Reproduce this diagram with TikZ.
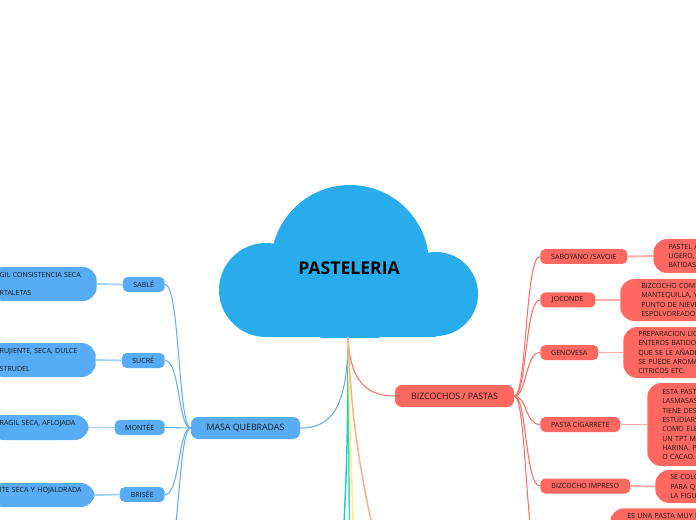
\documentclass[tikz,border=0pt]{standalone}
\usepackage{fontspec}
\setmainfont{Open Sans}
\newdimen\pxu \pxu=0.75pt
\definecolor{cloudc}{RGB}{41,172,235}
\definecolor{bluen}{RGB}{88,172,245}
\definecolor{bluel}{RGB}{165,210,250}
\definecolor{bluet}{RGB}{100,175,240}
\definecolor{redn}{RGB}{255,104,96}
\definecolor{redl}{RGB}{255,172,166}
\definecolor{redt}{RGB}{255,110,100}
\definecolor{cyanl}{RGB}{30,200,212}
\definecolor{greenl}{RGB}{80,215,170}
\definecolor{yellowl}{RGB}{255,240,130}
\definecolor{orangel}{RGB}{255,172,130}
\definecolor{txt}{RGB}{25,25,25}
\tikzset{
  smallfont/.style={font=\fontsize{5.3pt}{7pt}\selectfont},
  subb/.style={smallfont, fill=bluen, rounded corners=5\pxu, minimum height=15\pxu, inner sep=0pt, text=txt},
  subr/.style={subb, fill=redn},
  mainb/.style={fill=bluen, rounded corners=7\pxu, minimum height=22\pxu, inner sep=0pt, text=txt, font=\fontsize{6.6pt}{8pt}\selectfont},
  mainr/.style={mainb, fill=redn},
  leafb/.style={smallfont, fill=bluen, rounded corners=14\pxu, align=left, inner ysep=0pt, inner xsep=10\pxu, text=txt, anchor=east},
  leafr/.style={smallfont, fill=redn, rounded corners=14\pxu, align=left, inner ysep=0pt, inner xsep=15\pxu, text width=100\pxu, text=txt, anchor=west},
  trunkb/.style={draw=bluet, line width=0.8pt},
  trunkr/.style={draw=redt, line width=0.8pt},
  linkb/.style={draw=bluel, line width=1.4pt},
  linkr/.style={draw=redl, line width=1.4pt},
  branch/.style={line width=1.1pt}
}
\begin{document}
\begin{tikzpicture}[x=0.75pt,y=-0.75pt]
\path[use as bounding box] (0,0) rectangle (696,520);
\clip (0,0) rectangle (696,520);

% cloud
\begin{scope}
  \clip (200,150) rectangle (500,337);
  \fill[cloudc] (266,290) circle[radius=47\pxu];
  \fill[cloudc] (350,264) circle[radius=79\pxu];
  \fill[cloudc] (436,294) circle[radius=42\pxu];
  \fill[cloudc] (266,270) rectangle (436,337);
\end{scope}
\node[font=\fontsize{13.2pt}{15pt}\selectfont\bfseries, text=black] (root) at (349,268) {PASTELERIA};
\coordinate (rootb) at (348,337);

% main branches
\node[mainb, minimum width=109\pxu] (mq) at (245.5,428) {MASA QUEBRADAS};
\node[mainr, minimum width=119\pxu] (bz) at (454.5,396) {BIZCOCHOS / PASTAS};

% left sub nodes
\node[subb, minimum width=42\pxu, anchor=east] (sable) at (165,284.5) {SABLÉ};
\node[subb, minimum width=43\pxu, anchor=east] (sucre) at (165,360.5) {SUCRÉ};
\node[subb, minimum width=50\pxu, anchor=east] (montee) at (165,427.5) {MONTÉE};
\node[subb, minimum width=45\pxu, anchor=east] (brisee) at (165,494.5) {BRISÉE};
\coordinate (mqx) at (165,560);

% left leaves
\node[leafb, text width=87\pxu, minimum height=34\pxu] (sablel) at (97,284) {GIL CONSISTENCIA SECA\\ \mbox{}\\ RTALETAS};
\node[leafb, text width=86\pxu, minimum height=34\pxu] (sucrel) at (96,360) {RUJIENTE, SECA, DULCE\\ \mbox{}\\ STRUDEL};
\node[leafb, text width=79\pxu, minimum height=25\pxu] (monteel) at (89,427.5) {RAGIL SECA, AFLOJADA\\ \mbox{}};
\node[leafb, text width=85\pxu, minimum height=24\pxu] (briseel) at (95,495) {ITE SECA Y HOJALDRADA\\ \mbox{}};

% right sub nodes
\node[subr, minimum width=87\pxu, anchor=west] (sab) at (540,256.5) {SABOYANO /SAVOIE};
\node[subr, minimum width=55\pxu, anchor=west] (joc) at (540,300) {JOCONDE};
\node[subr, minimum width=58\pxu, anchor=west] (gen) at (540,352.5) {GENOVESA};
\node[subr, minimum width=80\pxu, anchor=west] (cig) at (540,424.5) {PASTA CIGARRETE};
\node[subr, minimum width=90\pxu, anchor=west] (imp) at (540,486) {BIZCOCHO IMPRESO};
\coordinate (bzx) at (540,560);

% right leaves
\node[leafr, minimum height=34\pxu] (sabl) at (653,256) {PASTEL A\\ LIGERO,\\ BATIDAS};
\node[leafr, minimum height=42\pxu, inner xsep=21\pxu] (jocl) at (620,300) {BIZCOCHO COMI\\ MANTEQUILLA, Y\\ PUNTO DE NIEVE\\ ESPOLVOREADO};
\node[leafr, minimum height=51\pxu] (genl) at (623,352.5) {PREPARACION LIC\\ ENTEROS BATIDO\\ QUE SE LE AÑADE\\ SE PUEDE AROMA\\ CITRICOS ETC.};
\node[leafr, minimum height=83\pxu] (cigl) at (647,424.5) {ESTA PASTA\\ LASMASAS\\ TIENE DES\\ ESTUDIARS\\ COMO ELE\\ UN TPT MA\\ HARINA. P\\ O CACAO.};
\node[leafr, minimum height=33\pxu] (impl) at (655,486.5) {SE COLO\\ PARA Q\\ LA FIGU};
\node[leafr, anchor=north west, inner ysep=5\pxu, inner xsep=17\pxu] (unal) at (610,508) {ES UNA PASTA MUY P\\ \mbox{}\\ \mbox{}};

% root connectors
\draw[trunkb] (rootb) .. controls (348,410) and (330,428) .. (mq.east);
\draw[trunkr] (rootb) .. controls (350,385) and (370,396) .. (bz.west);
\coordinate (d1) at (343,545);
\coordinate (d2) at (349.5,545);
\coordinate (d3) at (354,545);
\coordinate (d4) at (377,545);
\draw[branch, draw=cyanl] (rootb) .. controls (348,450) and (346,480) .. (d1);
\draw[branch, draw=greenl] (rootb) -- (d2);
\draw[branch, draw=yellowl] (rootb) .. controls (350,430) .. (d3);
\draw[branch, draw=orangel] (rootb) .. controls (350,400) and (358,470) .. (d4);

% left trunk
\draw[trunkb] (mq.west) .. controls (178,428) and (180,284.5) .. (sable.east);
\draw[trunkb] (mq.west) .. controls (178,428) and (180,360.5) .. (sucre.east);
\draw[trunkb] (mq.west) -- (montee.east);
\draw[trunkb] (mq.west) .. controls (178,428) and (180,494.5) .. (brisee.east);
\draw[trunkb] (mq.west) .. controls (178,428) and (180,560) .. (mqx);

% right trunk
\draw[trunkr] (bz.east) .. controls (527,396) and (525,256.5) .. (sab.west);
\draw[trunkr] (bz.east) .. controls (527,396) and (525,300) .. (joc.west);
\draw[trunkr] (bz.east) .. controls (527,396) and (525,352.5) .. (gen.west);
\draw[trunkr] (bz.east) .. controls (527,396) and (525,424.5) .. (cig.west);
\draw[trunkr] (bz.east) .. controls (527,396) and (525,486) .. (imp.west);
\draw[trunkr] (bz.east) .. controls (527,396) and (525,560) .. (bzx);

% sub-leaf links
\draw[linkb] (sable.west) -- (sablel.east);
\draw[linkb] (sucre.west) -- (sucrel.east);
\draw[linkb] (montee.west) -- (monteel.east);
\draw[linkb] (brisee.west) -- (briseel.east);
\draw[linkr] (sab.east) -- (sabl.west);
\draw[linkr] (joc.east) -- (jocl.west);
\draw[linkr] (gen.east) -- (genl.west);
\draw[linkr] (cig.east) -- (cigl.west);
\draw[linkr] (imp.east) -- (impl.west);
\end{tikzpicture}
\end{document}
